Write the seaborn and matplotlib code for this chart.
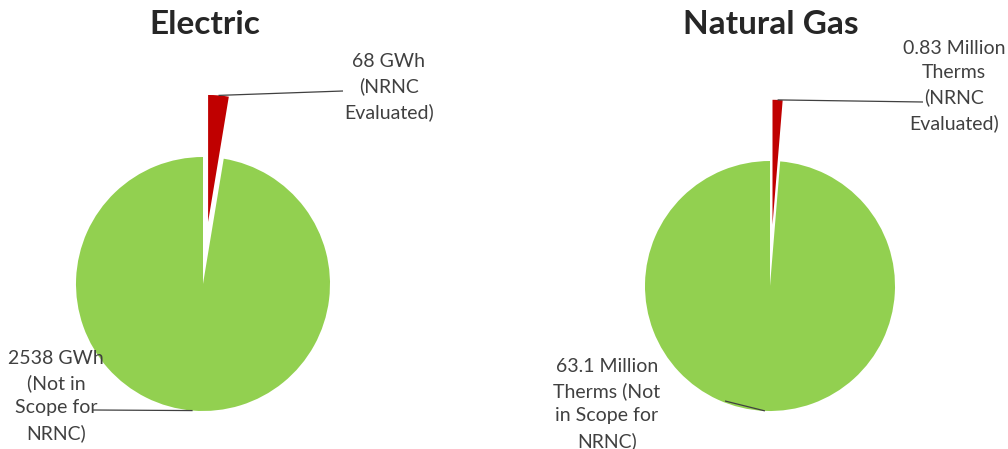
import numpy as np
import matplotlib
matplotlib.use("Agg")
import matplotlib.pyplot as plt
import seaborn as sns

# ---- data ----
panels = ["Electric", "Natural Gas"]
electric_values = [68, 2538]            # GWh: NRNC evaluated, not in scope
gas_values = [0.83, 63.1]               # Million therms
electric_labels = ["68 GWh\n(NRNC\nEvaluated)", "2538 GWh\n(Not in\nScope for\nNRNC)"]
gas_labels = ["0.83 Million\nTherms\n(NRNC\nEvaluated)", "63.1 Million\nTherms (Not\nin Scope for\nNRNC)"]
slice_colors = ["#C00000", "#92D050"]

sns.set_theme(style="white")
plt.rcParams["font.family"] = ["Lato", "DejaVu Sans"]

W, H = 1008, 449
fig = plt.figure(figsize=(W / 100, H / 100), dpi=100)
fig.patch.set_facecolor("white")

# layout (pixels, origin top-left): pie center, radius, label positions, leader ends
layouts = [
    dict(x0=0, x1=504, cx=203, cy=284, R=127, title_xy=(205, 25),
         text_xy=[(389, 87), (56, 396)], line_end=[(343, 91), (93, 410)]),
    dict(x0=504, x1=1008, cx=770, cy=286, R=125, title_xy=(771, 25),
         text_xy=[(954, 86), (607, 404)], line_end=[(923, 102), (725, 401)]),
]
datasets = [(electric_values, electric_labels), (gas_values, gas_labels)]

for title, (vals, labs), L in zip(panels, datasets, layouts):
    ax = fig.add_axes([L["x0"] / W, 0, (L["x1"] - L["x0"]) / W, 1])
    cx, cy, R = L["cx"], L["cy"], L["R"]

    def px2d(px, py):
        return (px - cx) / R, (cy - py) / R

    explode = [0.49, 0.0]
    wedges, _ = ax.pie(vals, colors=slice_colors, startangle=90, counterclock=False,
                       explode=explode, radius=1.0,
                       wedgeprops=dict(linewidth=0, edgecolor="white"))
    xl0, _ = px2d(L["x0"], 0)
    xl1, _ = px2d(L["x1"], 0)
    _, yl0 = px2d(0, H)
    _, yl1 = px2d(0, 0)
    ax.set_xlim(xl0, xl1)
    ax.set_ylim(yl0, yl1)
    ax.set_aspect("auto")
    ax.set_axis_off()

    for i, w in enumerate(wedges):
        ang = np.deg2rad((w.theta1 + w.theta2) / 2)
        r = 1.0 + explode[i]
        sx, sy = r * np.cos(ang), r * np.sin(ang)
        ex, ey = px2d(*L["line_end"][i])
        ax.plot([sx, ex], [sy, ey], color="#404040", lw=0.9, solid_capstyle="butt")
        tx, ty = px2d(*L["text_xy"][i])
        ax.text(tx, ty, labs[i], ha="center", va="center", multialignment="center",
                fontsize=14, color="#404040", linespacing=1.5)

    tx, ty = px2d(*L["title_xy"])
    ax.text(tx, ty, title, ha="center", va="center", fontsize=24,
            fontweight="bold", color="#262626")

fig.savefig("out.png", dpi=100, facecolor="white")
